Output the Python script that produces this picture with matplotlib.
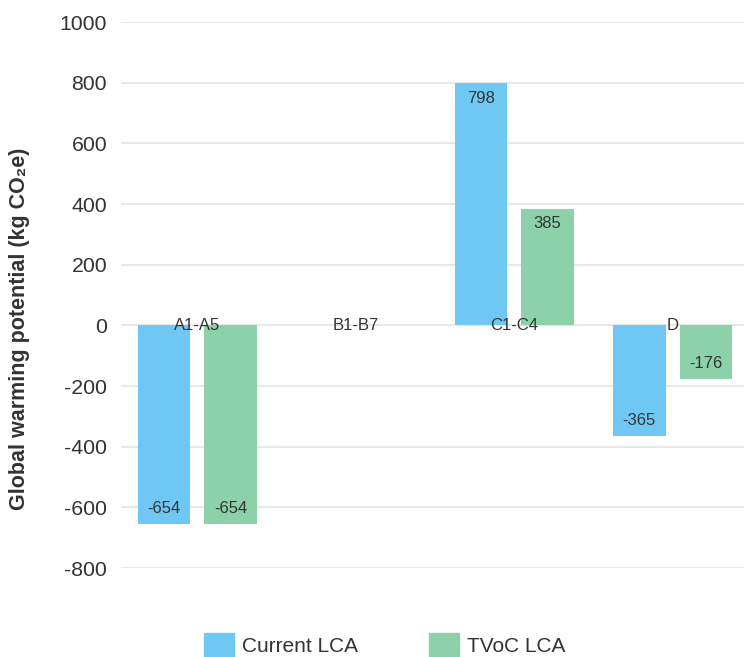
import numpy as np
import matplotlib
matplotlib.use("Agg")
import matplotlib.pyplot as plt
from matplotlib.patches import Patch

plt.rcParams['font.family'] = ['Liberation Sans', 'DejaVu Sans']
plt.rcParams['axes.unicode_minus'] = False

stages = ["A1-A5", "B1-B7", "C1-C4", "D"]
current_lca = [-654, 0, 798, -365]
tvoc_lca = [-654, 0, 385, -176]
series_names = ["Current LCA", "TVoC LCA"]

blue = "#6fc8f3"
green = "#8cd1a9"
txt = "#333333"

fig = plt.figure(figsize=(7.44, 6.57), dpi=100)
ax = fig.add_axes([121 / 744, 89 / 657, 1 - 121 / 744, 546 / 657])

x = np.arange(len(stages))
w = 0.33
off = 0.21

for vals, dx, col in [(current_lca, -off, blue), (tvoc_lca, off, green)]:
    for xi, v in zip(x, vals):
        if v == 0:
            continue
        ax.bar(xi + dx, v, width=w, color=col, zorder=2)
        # value sits just inside the end of the bar
        ax.text(xi + dx, v - np.sign(v) * 50, f"{v}", ha="center", va="center",
                fontsize=12, color=txt, zorder=3)

# stage names drawn on the zero line
for xi, s in zip(x, stages):
    ax.text(xi, 0, s, ha="center", va="center", fontsize=12, color=txt, zorder=4)

ax.set_ylim(-800, 1000)
ax.set_xlim(-0.48, 3.45)
ax.set_yticks(np.arange(-800, 1001, 200))
ax.set_xticks([])
ax.tick_params(axis="y", length=0, pad=10, labelsize=15.3, labelcolor=txt)
ax.grid(axis="y", color="#e8e8e8", linewidth=1.5, zorder=0)
ax.set_axisbelow(True)
for sp in ax.spines.values():
    sp.set_visible(False)

fig.text(20 / 744, 1 - 329 / 657, "Global warming potential (kg CO₂e)", rotation=90,
         ha="center", va="center", fontsize=15.5, fontweight="bold", color=txt)

handles = [Patch(color=blue), Patch(color=green)]
fig.legend(handles, series_names, loc="center", bbox_to_anchor=(0.517, 0.018), ncol=2,
           frameon=False, fontsize=15, handlelength=1.44, handleheight=1.44,
           handletextpad=0.38, columnspacing=3.45, labelcolor=txt)

fig.savefig("out.png", dpi=100)
